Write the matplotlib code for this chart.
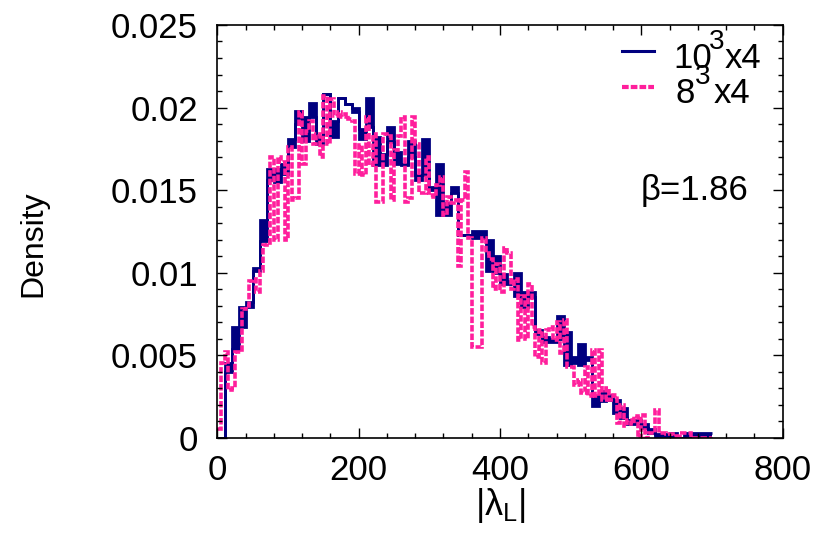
import numpy as np
import matplotlib
matplotlib.use("Agg")
import matplotlib.pyplot as plt
from matplotlib.lines import Line2D

plt.rcParams['font.family'] = ['Liberation Sans', 'DejaVu Sans']
plt.rcParams['mathtext.fontset'] = 'custom'
plt.rcParams['mathtext.rm'] = 'Liberation Sans'
plt.rcParams['mathtext.it'] = 'Liberation Sans'

# histogram bins of |lambda_L| (width 10)
bin_edges = np.arange(0, 710, 10)

# 10^3 x 4 lattice: upper / lower envelope of the (finely binned) density, units of 1e-3
blue_hi = [0.0, 4.5, 6.7, 7.9, 8.2, 10.3, 13.2, 16.3, 16.3, 16.6,
           18.1, 19.8, 19.4, 20.3, 18.2, 20.8, 19.2, 20.6, 20.2, 20.0,
           18.7, 20.6, 18.2, 17.2, 18.8, 17.3, 16.6, 18.0, 15.9, 18.1,
           15.2, 16.6, 14.2, 15.2, 12.3, 12.3, 12.5, 12.5, 12.0, 11.0,
           9.9, 9.5, 10.0, 8.8, 8.8, 6.5, 6.1, 6.0, 7.4, 6.4,
           4.9, 5.7, 4.9, 2.5, 2.8, 2.6, 2.3, 1.8, 1.1, 1.1,
           0.8, 0.5, 0.2, 0.2, 0.3, 0.0, 0.3, 0.3, 0.3, 0.3]
blue_lo = [0.0, 4.0, 5.4, 6.7, 7.9, 10.1, 11.9, 15.6, 15.5, 16.0,
           17.6, 19.0, 18.0, 19.4, 17.8, 20.8, 18.2, 20.6, 20.2, 19.7,
           18.1, 18.8, 16.5, 16.5, 17.9, 16.6, 16.5, 17.0, 15.6, 15.9,
           15.0, 13.5, 13.5, 14.8, 12.3, 12.3, 12.1, 12.1, 10.1, 10.0,
           9.3, 9.3, 8.6, 7.9, 8.5, 6.3, 5.8, 5.8, 6.0, 4.4,
           4.5, 4.4, 4.7, 1.9, 2.2, 2.3, 1.5, 1.2, 0.8, 0.8,
           0.6, 0.3, 0.1, 0.1, 0.0, 0.0, 0.0, 0.0, 0.0, 0.0]

# 8^3 x 4 lattice: values in first / second half of each bin, units of 1e-3
pink_a = [0.5, 5.2, 3.0, 5.2, 8.0, 9.6, 10.1, 11.8, 12.0, 16.7,
          17.6, 14.5, 16.6, 19.2, 18.4, 20.7, 20.5, 19.7, 19.6, 19.2,
          17.7, 19.4, 18.4, 14.3, 18.3, 17.4, 19.4, 14.5, 17.8, 14.8,
          14.7, 15.3, 13.5, 14.2, 10.4, 16.1, 5.5, 5.5, 11.2, 9.0,
          8.8, 11.2, 9.6, 8.6, 9.3, 4.9, 4.5, 6.7, 7.0, 7.1,
          4.3, 3.5, 4.3, 5.3, 5.3, 3.0, 2.6, 2.0, 1.1, 1.3,
          1.4, 0.3, 1.7, 0.3, 0.2, 0.1, 0.3, 0.0, 0.0, 0.0]
pink_b = [4.5, 2.9, 5.2, 7.8, 9.5, 8.8, 11.7, 17.0, 17.0, 12.0,
          14.4, 19.7, 18.6, 17.8, 17.0, 17.8, 19.5, 19.4, 19.3, 16.0,
          15.9, 16.5, 14.3, 18.4, 14.4, 18.3, 14.3, 19.4, 14.8, 17.0,
          14.6, 15.8, 14.6, 14.4, 14.4, 12.1, 5.5, 12.1, 10.8, 10.5,
          11.5, 9.0, 5.9, 6.0, 6.7, 6.5, 6.5, 5.9, 5.1, 4.3,
          3.2, 2.7, 2.5, 2.5, 2.3, 2.3, 0.9, 0.7, 0.8, 0.0,
          0.0, 0.3, 0.3, 0.2, 0.1, 0.3, 0.3, 0.0, 0.0, 0.0]

# legend labels: (base, superscript, suffix)
label_parts = [('10', '3', 'x4'), ('8', '3', 'x4')]
beta_text = 'β=1.86'
x_ticks = [0, 200, 400, 600, 800]
y_ticks = [0, 0.005, 0.01, 0.015, 0.02, 0.025]
y_ticklabels = ['0', '0.005', '0.01', '0.015', '0.02', '0.025']

navy = '#00007f'
pink = '#ff1f9c'
W, H = 820, 548

fig = plt.figure(figsize=(W / 100, H / 100), dpi=100)
ax = fig.add_axes([0.2652, 0.2013, 0.6891, 0.7531])

scale = 1e-3
bhi = np.array(blue_hi) * scale
blo = np.array(blue_lo) * scale
ax.stairs(bhi, bin_edges, baseline=blo, fill=True, color=navy, lw=0)
ax.stairs(bhi, bin_edges, baseline=None, color=navy, lw=2.0)
ax.stairs(blo, bin_edges, baseline=None, color=navy, lw=2.0)

half_edges = np.linspace(bin_edges[0], bin_edges[-1], 2 * (len(bin_edges) - 1) + 1)
pvals = np.empty(2 * len(pink_a))
pvals[0::2] = pink_a
pvals[1::2] = pink_b
ax.stairs(pvals * scale, half_edges, baseline=None, color=pink, lw=2.6,
          linestyle=(0, (1.8, 0.55)))

ax.set_xlim(0, 800)
ax.set_ylim(0, 0.025)
ax.set_xticks(x_ticks)
ax.set_yticks(y_ticks)
ax.set_yticklabels(y_ticklabels)
ax.set_xticks(np.arange(0, 801, 40), minor=True)
ax.set_yticks(np.arange(0, 0.02501, 0.001), minor=True)
ax.tick_params(which='both', direction='in', top=True, right=True, width=1.0)
ax.tick_params(which='major', length=7, labelsize=25, pad=14)
ax.tick_params(which='minor', length=3.5)
ax.tick_params(axis='x', which='major', pad=12)
for s in ax.spines.values():
    s.set_linewidth(1.2)

ax.set_xlabel(r'|$\mathregular{\lambda_L}$|', fontsize=26)
ax.xaxis.set_label_coords(0.5, -0.118)
ax.set_ylabel('Density', fontsize=23)
ax.yaxis.set_label_coords(-0.30, 0.47)

ax.text(0.748, 0.60, beta_text, transform=ax.transAxes, fontsize=25,
        ha='left', va='center')

# legend drawn by hand (tight superscripts as in the original)
def fx(px):
    return px / W

def fy(py):
    return 1 - py / H

legend_rows = [
    dict(color=navy, lw=2.2, ls='-', line_y=51, base_x=673, sup_x=709, suf_x=725,
         base_y=68, sup_y=49),
    dict(color=pink, lw=3.0, ls=(0, (1.6, 0.5)), line_y=87, base_x=676, sup_x=695,
         suf_x=714, base_y=103, sup_y=84),
]
for row, (base, sup, suf) in zip(legend_rows, label_parts):
    fig.add_artist(Line2D([fx(622), fx(654)], [fy(row['line_y'])] * 2,
                          color=row['color'], lw=row['lw'], linestyle=row['ls'],
                          transform=fig.transFigure))
    fig.text(fx(row['base_x']), fy(row['base_y']), base, fontsize=25, va='baseline')
    fig.text(fx(row['sup_x']), fy(row['sup_y']), sup, fontsize=20, va='baseline')
    fig.text(fx(row['suf_x']), fy(row['base_y']), suf, fontsize=25, va='baseline')

fig.savefig('out.png', dpi=100)
